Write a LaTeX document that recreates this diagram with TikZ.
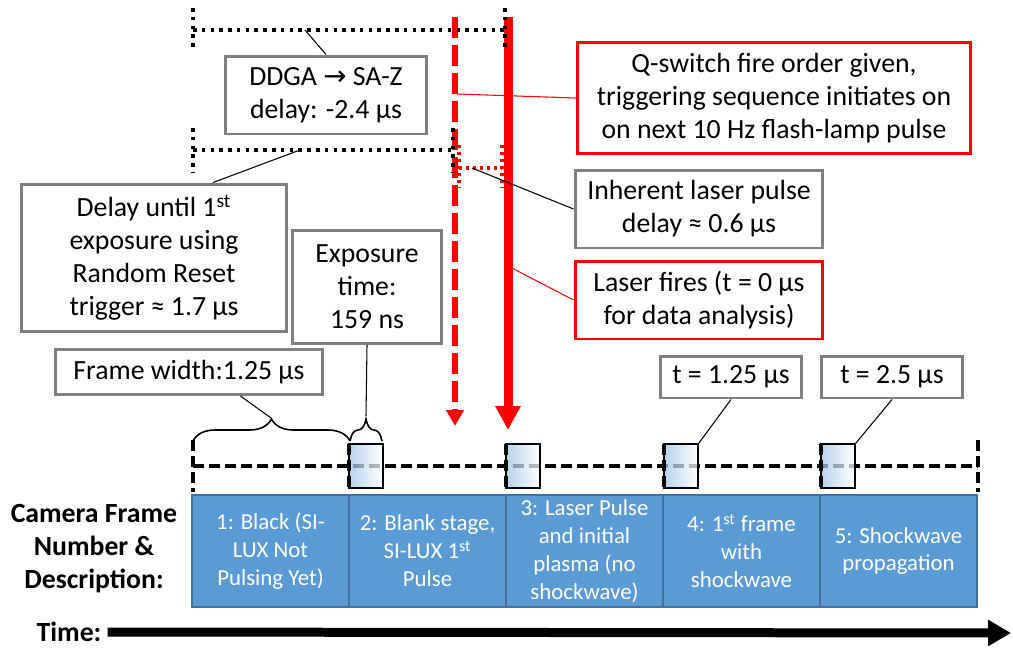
\documentclass[tikz,border=0pt]{standalone}
\usepackage{fontspec}
\setmainfont{Carlito}
\newfontfamily\arrowfont{DejaVu Sans}
\usepackage{xcolor}
\usepackage{tikz}
\usetikzlibrary{arrows.meta,decorations.pathreplacing}

\definecolor{cellblue}{RGB}{91,155,213}
\definecolor{cellline}{RGB}{65,113,156}
\definecolor{expoblue}{RGB}{157,195,230}
\definecolor{boxgray}{RGB}{128,128,128}

\tikzset{
  graybox/.style={draw=boxgray, line width=1.7pt, fill=white, align=center, inner sep=2pt,
    font=\fontsize{15.8}{18.8}\selectfont},
  redbox/.style={graybox, draw=red},
  cell/.style={draw=cellline, line width=0.8pt, fill=cellblue, text=white, align=center, inner sep=1pt,
    minimum width=3.14cm, minimum height=2.24cm, font=\fontsize{13}{15.9}\selectfont},
  expo/.style={draw=black, line width=0.8pt, left color=expoblue, right color=white, fill opacity=0.75,
    minimum width=0.68cm, minimum height=0.88cm, inner sep=0pt},
  dotline/.style={black, line width=2pt, dash pattern=on 2pt off 3pt},
  reddot/.style={red, line width=1.8pt, dash pattern=on 1.8pt off 2.2pt},
  timedash/.style={black, line width=0.085cm, dash pattern=on 0.22cm off 0.1cm},
  laserdash/.style={red, line width=0.12cm, dash pattern=on 0.42cm off 0.14cm, -{Triangle[length=0.32cm,width=0.34cm]}},
  laser/.style={red, line width=0.18cm, -{Triangle[length=0.48cm,width=0.48cm]}},
  link/.style={black, line width=0.6pt},
  redlink/.style={red, line width=0.6pt},
  bracepath/.style={black, line width=0.9pt, decorate, decoration={brace, amplitude=0.44cm}}
}

\begin{document}
\begin{tikzpicture}[x=0.02cm, y=-0.02cm]
\useasboundingbox (0,0) rectangle (1013,649);

\draw[laserdash] (455,17) -- (455,426);
\draw[laser] (508,17) -- (508,430);

\draw[dotline] (193,30) -- (505,30);
\draw[dotline] (193,8) -- (193,50);
\draw[dotline] (505,8) -- (505,50);
\draw[dotline] (193,150) -- (453,150);
\draw[dotline] (193,128) -- (193,172);
\draw[dotline] (453,128) -- (453,172);
\draw[reddot] (459,145) -- (459,188);
\draw[reddot] (502,145) -- (502,188);
\draw[reddot] (459,168) -- (502,168);

\coordinate (ddgatop) at (305,30);
\coordinate (delaytop) at (300,150);
\coordinate (qs) at (457,94);
\coordinate (inh) at (472,168);
\coordinate (fire) at (508,266);
\coordinate (bigtip) at (271,418);
\coordinate (smalltip) at (366,416);
\coordinate (timeend) at (1011,633);

\node at (326,95) (ddga)[graybox, minimum width=4.02cm, minimum height=1.56cm]{DDGA {\arrowfont →} SA-Z\\delay: -2.4 µs};
\node at (154,258) (delay)[graybox, minimum width=5.32cm, minimum height=2.96cm]{Delay until 1\textsuperscript{st}\\exposure using\\Random Reset\\trigger ≈ 1.7 µs};
\node at (367,287) (exposure)[graybox, minimum width=2.98cm, minimum height=2.26cm]{Exposure\\time:\\159 ns};
\node at (189,372) (framew)[graybox, minimum width=5.36cm, minimum height=0.9cm]{Frame width:1.25 µs};
\node at (774,98) (qswitch)[redbox, minimum width=7.86cm, minimum height=2.24cm]{Q-switch fire order given,\\triggering sequence initiates on\\on next 10 Hz flash-lamp pulse};
\node at (699,209) (inherent)[graybox, minimum width=4.96cm, minimum height=1.56cm]{Inherent laser pulse\\delay ≈ 0.6 µs};
\node at (699,300) (fires)[redbox, minimum width=4.96cm, minimum height=1.56cm]{Laser fires (t = 0 µs\\for data analysis)};
\node at (731,377) (t1)[graybox, minimum width=2.82cm, minimum height=0.84cm]{t = 1.25 µs};
\node at (892,377) (t2)[graybox, minimum width=2.82cm, minimum height=0.84cm]{t = 2.5 µs};

\draw[bracepath] (193,441) -- (350,441);
\draw[bracepath] (350,441) -- (382,441);

\draw[timedash] (193,466) -- (978,466);
\node at (366,466) (sq1)[expo]{};
\node at (523,466) (sq2)[expo]{};
\node at (681,466) (sq3)[expo]{};
\node at (838,466) (sq4)[expo]{};
\draw[timedash] (193,440) -- (193,492);
\draw[timedash] (978,440) -- (978,492);
\draw[timedash] (349,444) -- (349,488);
\draw[timedash] (506,444) -- (506,488);
\draw[timedash] (664,444) -- (664,488);
\draw[timedash] (821,444) -- (821,488);

\node at (270.5,551) (c1)[cell]{1: Black (SI-\\LUX Not\\Pulsing Yet)};
\node at (427.5,551) (c2)[cell]{2: Blank stage,\\SI-LUX 1\textsuperscript{st}\\Pulse};
\node at (584.5,551) (c3)[cell]{3: Laser Pulse\\and initial\\plasma (no\\shockwave)};
\node at (741.5,551) (c4)[cell]{4: 1\textsuperscript{st} frame\\with\\shockwave};
\node at (898.5,551) (c5)[cell]{5: Shockwave\\propagation};

\node at (94,549) (camlabel)[align=center, font=\bfseries\fontsize{15.8}{18.8}\selectfont]{Camera Frame\\Number \&\\Description:};
\node at (69,632) (timelabel)[font=\bfseries\fontsize{15.8}{18.8}\selectfont]{Time:};
\draw[line width=0.18cm, -{Triangle[length=0.46cm,width=0.5cm]}] (timelabel.east) -- (timeend);

\draw[link] (ddga.north) -- (ddgatop);
\draw[link] (delay.52) -- (delaytop);
\draw[link] (exposure.south) -- (smalltip);
\draw[link] (framew.-25) -- (bigtip);
\draw[redlink] (qswitch.west) -- (qs);
\draw[link] (inherent.west) -- (inh);
\draw[redlink] (fires.west) -- (fire);
\draw[link] (t1.south) -- (sq3.north east);
\draw[link] (t2.south) -- (sq4.north east);
\end{tikzpicture}
\end{document}
